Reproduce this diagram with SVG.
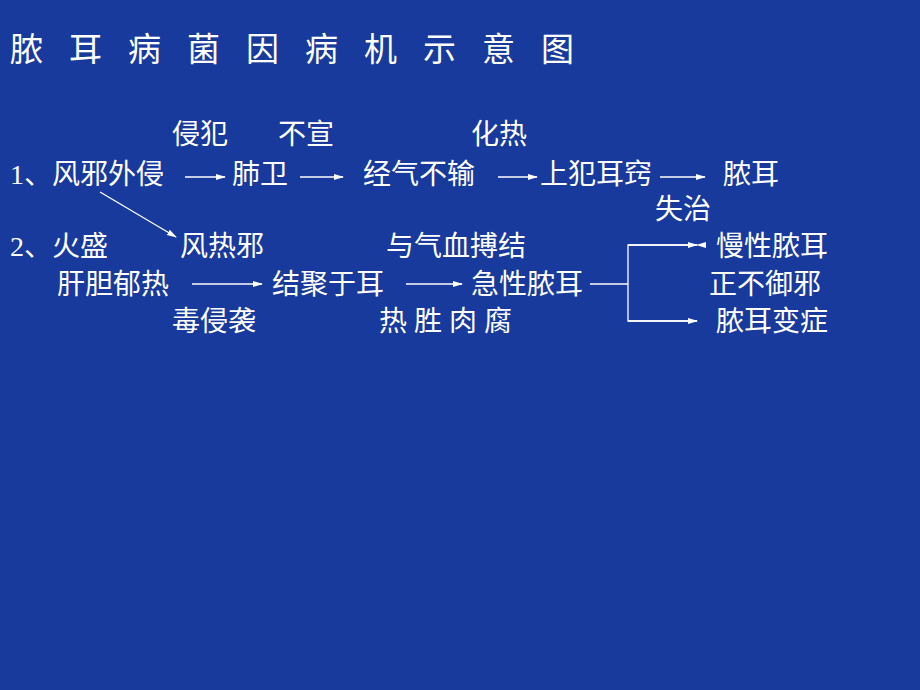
<svg xmlns="http://www.w3.org/2000/svg" width="920" height="690" viewBox="0 0 920 690">
<defs><marker id="a" markerWidth="10" markerHeight="8" refX="9" refY="4" orient="auto" markerUnits="userSpaceOnUse"><path d="M0,1 L10,4 L0,7 Z" fill="#fff"/></marker></defs>
<style>text{font-family:"Liberation Serif","Noto Sans CJK SC",serif;font-size:28px;fill:#fff}.t{font-size:33px;letter-spacing:26px}line,path.c{stroke:#fff;stroke-width:1.3;fill:none}</style>
<rect width="920" height="690" fill="#183a9c"/>
<text class="t" x="10" y="61">脓耳病菌因病机示意图</text>
<g id="n1"><text x="172" y="144">侵犯</text><text x="278" y="144">不宣</text><text x="471" y="144">化热</text></g>
<g id="n2"><text x="10" y="184">1、风邪外侵</text><text x="232" y="184">肺卫</text><text x="363" y="184">经气不输</text><text x="540" y="184">上犯耳窍</text><text x="723" y="184">脓耳</text><text x="655" y="219">失治</text></g>
<g id="n3"><text x="10" y="256">2、火盛</text><text x="180" y="256">风热邪</text><text x="386" y="256">与气血搏结</text><text x="716" y="256">慢性脓耳</text></g>
<g id="n4"><text x="57" y="294">肝胆郁热</text><text x="272" y="294">结聚于耳</text><text x="471" y="294">急性脓耳</text><text x="709" y="294">正不御邪</text></g>
<g id="n5"><text x="172" y="331">毒侵袭</text><text x="379" y="331">热 胜 肉 腐</text><text x="716" y="331">脓耳变症</text></g>
<g id="connectors">
<line x1="185" y1="177" x2="225" y2="177" marker-end="url(#a)"/>
<line x1="300" y1="177" x2="343" y2="177" marker-end="url(#a)"/>
<line x1="498" y1="177" x2="537" y2="177" marker-end="url(#a)"/>
<line x1="660" y1="177" x2="705" y2="177" marker-end="url(#a)"/>
<line x1="100" y1="192" x2="176" y2="237" marker-end="url(#a)"/>
<line x1="192" y1="284" x2="262" y2="284" marker-end="url(#a)"/>
<line x1="406" y1="284" x2="462" y2="284" marker-end="url(#a)"/>
<line x1="590" y1="284" x2="628" y2="284"/>
<path class="c" d="M697,245 H628 V321 H697" marker-start="url(#a)"/>
<line x1="628" y1="245" x2="697" y2="245" marker-end="url(#a)"/>
<line x1="628" y1="321" x2="697" y2="321" marker-end="url(#a)"/>
</g>
</svg>
